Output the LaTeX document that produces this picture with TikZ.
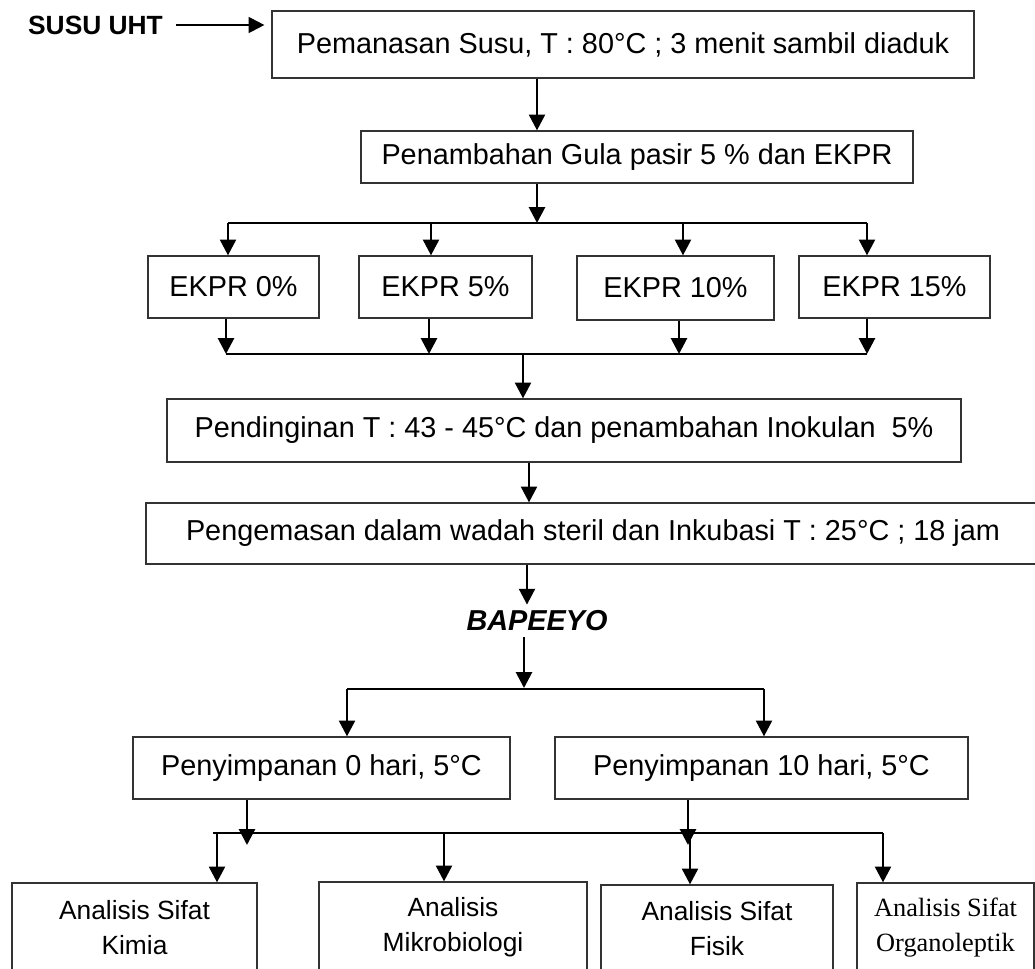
\documentclass[tikz,border=0pt]{standalone}
\usepackage{fontspec}
\setmainfont{Liberation Sans}
\newfontfamily\serifrm{Liberation Serif}
\usepackage{tikz}
\usetikzlibrary{arrows.meta}

\begin{document}
\begin{tikzpicture}[x=0.02cm,y=-0.02cm,
  box/.style={rectangle,draw=black!80,line width=0.7pt,inner sep=0pt,
    align=center,font=\fontsize{16.4}{19}\selectfont},
  abox/.style={box,font=\fontsize{15}{20}\selectfont},
  arr/.style={-{Triangle[width=9pt,length=9pt]},line width=1.6pt},
  bus/.style={line width=1.2pt}
]
  \useasboundingbox (0,0) rectangle (1035,968);

  \node[font=\bfseries\fontsize{15}{18}\selectfont] (uht) at (95.5,25) {SUSU UHT};
  \node[box,minimum width=14.04cm,minimum height=1.34cm] (b1) at (623,44.5)
    {\raisebox{2pt}{Pemanasan Susu, T : 80°C ; 3 menit sambil diaduk}};
  \node[box,minimum width=11.04cm,minimum height=1.04cm] (b2) at (637,157)
    {Penambahan Gula pasir 5 \% dan EKPR};

  \node[box,minimum width=3.42cm,minimum height=1.24cm] (e0)  at (233.5,287) {EKPR 0\%};
  \node[box,minimum width=3.46cm,minimum height=1.24cm] (e5)  at (445.5,287) {EKPR 5\%};
  \node[box,minimum width=3.94cm,minimum height=1.28cm] (e10) at (675.5,288) {EKPR 10\%};
  \node[box,minimum width=3.82cm,minimum height=1.24cm] (e15) at (894.5,287) {EKPR 15\%};

  \node[box,minimum width=15.88cm,minimum height=1.26cm] (b3) at (564,430.5)
    {Pendinginan T : 43 - 45°C dan penambahan Inokulan~ 5\%};
  \node[box,minimum width=17.88cm,minimum height=1.22cm] (b4) at (593,533.5)
    {Pengemasan dalam wadah steril dan Inkubasi T : 25°C ; 18 jam};
  \node[font=\bfseries\itshape\fontsize{16.4}{19}\selectfont] (bap) at (537,621) {BAPEEYO};

  \node[box,minimum width=7.54cm,minimum height=1.24cm] (s0)  at (321.5,768) {Penyimpanan 0 hari, 5°C};
  \node[box,minimum width=8.26cm,minimum height=1.24cm] (s10) at (761.5,768) {Penyimpanan 10 hari, 5°C};

  \node[abox,minimum width=4.9cm,minimum height=1.78cm]  (a1) at (134.5,927.5) {Analisis Sifat\\Kimia};
  \node[abox,minimum width=5.36cm,minimum height=1.8cm]  (a2) at (453,927) {Analisis\\Mikrobiologi};
  \node[abox,minimum width=4.64cm,minimum height=1.74cm] (a3) at (717,928.5) {Analisis Sifat\\Fisik};
  \node[abox,font=\serifrm\fontsize{15}{20}\selectfont,minimum width=3.54cm,minimum height=1.78cm]
    (a4) at (945.5,927.5) {Analisis Sifat\\Organoleptik};

  % bus points
  \coordinate (bAin) at (537,223);
  \coordinate (bA1) at (228,223);
  \coordinate (bA2) at (431,223);
  \coordinate (bA3) at (683,223);
  \coordinate (bA4) at (867,223);
  \coordinate (bB1) at (226,354);
  \coordinate (bB2) at (429,354);
  \coordinate (bB3) at (679,354);
  \coordinate (bB4) at (867,354);
  \coordinate (bBout) at (523,354);
  \coordinate (j2) at (529,0);
  \coordinate (j3) at (527,0);
  \coordinate (bCin) at (524,688);
  \coordinate (bC1) at (347,689);
  \coordinate (bC2) at (764,689);
  \coordinate (j4) at (247,845);
  \coordinate (j5) at (688,845);
  \coordinate (bD0) at (213,833);
  \coordinate (bD1) at (217,833);
  \coordinate (bD2) at (444,833);
  \coordinate (bD3) at (690,833);
  \coordinate (bD4) at (883,833);

  \draw[arr,line width=1.2pt,shorten <=4pt,shorten >=4pt] (uht.east) -- (uht.east -| b1.west);
  \draw[arr] (b1.south -| bAin) -- (b2.north -| bAin);
  \draw[arr] (b2.south -| bAin) -- (bAin);
  \draw[bus] (bA1) -- (bA4);
  \foreach \i/\n in {1/e0,2/e5,3/e10,4/e15}
    \draw[arr] (bA\i) -- (bA\i |- \n.north);
  \foreach \i/\n in {1/e0,2/e5,3/e10,4/e15}
    \draw[arr] (\n.south -| bB\i) -- (bB\i);
  \draw[bus] (bB1) -- (bB4);
  \draw[arr] (bBout) -- (b3.north -| bBout);
  \draw[arr] (b3.south -| j2) -- (b4.north -| j2);
  \draw[arr] (b4.south -| j3) -- (bap.north -| j3);
  \draw[arr] (bap.south -| bCin) -- (bCin);
  \draw[bus] (bC1) -- (bC2);
  \draw[arr] (bC1) -- (s0.north -| bC1);
  \draw[arr] (bC2) -- (s10.north -| bC2);
  \draw[arr] (s0.south -| j4) -- (j4);
  \draw[arr] (s10.south -| j5) -- (j5);
  \draw[bus] (bD0) -- (bD4);
  \foreach \i/\n in {1/a1,2/a2,3/a3,4/a4}
    \draw[arr] (bD\i) -- (bD\i |- \n.north);
\end{tikzpicture}
\end{document}
